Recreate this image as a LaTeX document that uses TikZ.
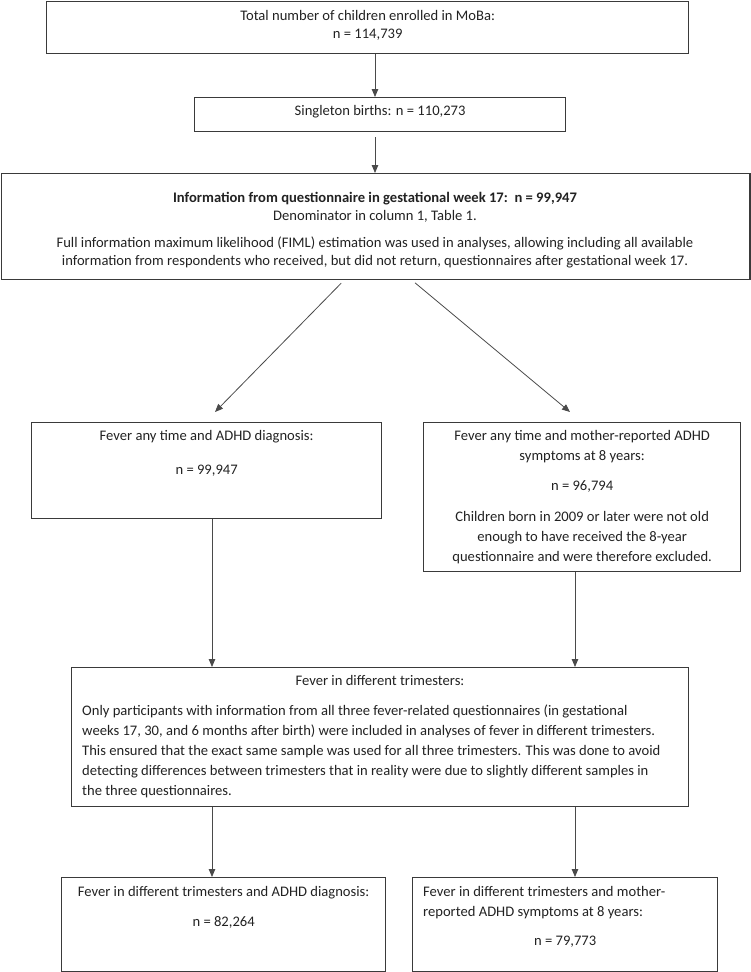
\documentclass[tikz,border=0pt]{standalone}
\usepackage{fontspec}
\setmainfont{Carlito}
\usepackage{tikz}
\usetikzlibrary{positioning, arrows.meta}
\definecolor{boxline}{HTML}{3A3A3A}
\definecolor{arrline}{HTML}{4A4A4A}
\definecolor{ink}{HTML}{222222}
\tikzset{
  box/.style={draw=boxline, line width=1.3pt, anchor=north west, inner sep=0pt},
  txt/.style={anchor=north, align=center, inner sep=0pt, text=ink,
    font=\fontsize{14.6}{20}\selectfont},
  arr/.style={draw=arrline, line width=0.8pt, -{Triangle[length=8pt, width=6.5pt]}},
}

\begin{document}
\begin{tikzpicture}[x=1pt, y=-1pt]
    \useasboundingbox (0,0) rectangle (750,972);
    % boxes
    \node[box, minimum width=642pt, minimum height=52.5pt] (total) at (46,0.6) {};
    \node[box, minimum width=371pt, minimum height=34pt] (single) at (194,97) {};
    \node[box, minimum width=748.8pt, minimum height=106pt] (info) at (0.6,173) {};
    \node[box, minimum width=350pt, minimum height=96pt] (anyDx) at (31,422) {};
    \node[box, minimum width=317pt, minimum height=149pt] (anySym) at (423,422) {};
    \node[box, minimum width=617pt, minimum height=139pt] (tri) at (71,667) {};
    \node[box, minimum width=324pt, minimum height=94pt] (triDx) at (61,877) {};
    \node[box, minimum width=305pt, minimum height=94pt] (triSym) at (412,877) {};
    % texts
    \node[txt, font=\fontsize{14.6}{18}\selectfont] (totalT) at (total.north |- 0,10)
        {Total number of children enrolled in MoBa:\\ n = 114,739};
    \node[txt] (singleT) at (single.north |- 0,105) {Singleton births: n = 110,273};
    \node[txt, font=\fontsize{14.6}{18}\selectfont] (infoT) at (375,192)
        {\textbf{Information from questionnaire in gestational week 17:\ \ n = 99,947}\\
         Denominator in column 1, Table 1.\\[9pt]
         Full information maximum likelihood (FIML) estimation was used in analyses, allowing including all available\\
         information from respondents who received, but did not return, questionnaires after gestational week 17.};
    \node[txt] (anyDxT) at (anyDx.north |- 0,430)
        {Fever any time and ADHD diagnosis:\\[14pt] n = 99,947};
    \node[txt] (anySymT) at (anySym.north |- 0,430)
        {Fever any time and mother-reported ADHD\\ symptoms at 8 years:\\[10pt]
         n = 96,794\\[11pt]
         Children born in 2009 or later were not old\\ enough to have received the 8-year\\
         questionnaire and were therefore excluded.};
    \node[txt] (triT) at (380,675) {Fever in different trimesters:};
    \node[txt, anchor=north west, align=left] (triP) at (82,705)
        {Only participants with information from all three fever-related questionnaires (in gestational\\
         weeks 17, 30, and 6 months after birth) were included in analyses of fever in different trimesters.\\
         This ensured that the exact same sample was used for all three trimesters. This was done to avoid\\
         detecting differences between trimesters that in reality were due to slightly different samples in\\
         the three questionnaires.};
    \node[txt] (triDxT) at (triDx.north |- 0,886)
        {Fever in different trimesters and ADHD diagnosis:\\[10pt] n = 82,264};
    \node[txt, anchor=north west, align=left] (triSymT) at (423,886)
        {Fever in different trimesters and mother-\\ reported ADHD symptoms at 8 years:};
    \node[txt] (triSymN) at (triSym.north |- 0,936) {n = 79,773};
    % arrows
    \coordinate (dl) at (215,412);
    \coordinate (dr) at (570,412);
    \draw[arr] (total.south -| 375,0) -- (single.north -| 375,0);
    \draw[arr, shorten <=5pt] (single.south -| 375,0) -- (info.north -| 375,0);
    \draw[arr, shorten <=4pt] (info.south -| 344,0) -- (dl);
    \draw[arr, shorten <=4pt] (info.south -| 412,0) -- (dr);
    \draw[arr] (anyDx.south -| 212,0) -- (tri.north -| 212,0);
    \draw[arr] (anySym.south -| 575,0) -- (tri.north -| 575,0);
    \draw[arr] (tri.south -| 212,0) -- (triDx.north -| 212,0);
    \draw[arr] (tri.south -| 575,0) -- (triSym.north -| 575,0);
\end{tikzpicture}
\end{document}
